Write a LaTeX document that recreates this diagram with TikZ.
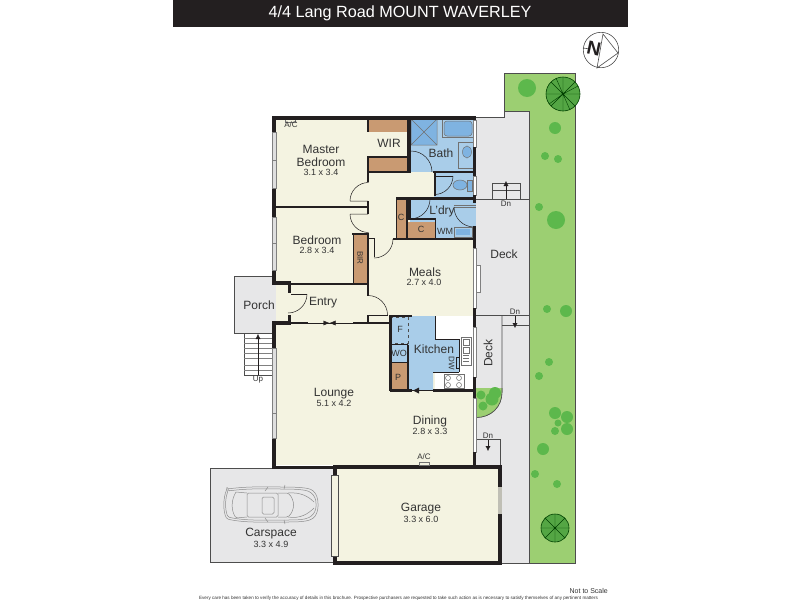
\documentclass[tikz,border=0pt]{standalone}
\usepackage{fontspec}
\setmainfont{Liberation Sans}
\usetikzlibrary{arrows.meta}
\definecolor{wallc}{HTML}{231F20}
\definecolor{creamc}{HTML}{F4F3E1}
\definecolor{bluec}{HTML}{A9CDE9}
\definecolor{dbluec}{HTML}{7FB3E1}
\definecolor{brownc}{HTML}{C99A72}
\definecolor{deckc}{HTML}{E7E7E8}
\definecolor{lawnc}{HTML}{9CCF72}
\definecolor{treec}{HTML}{5DB84C}
\definecolor{linec}{HTML}{4D4D4D}
\definecolor{textc}{HTML}{333333}
\tikzset{
  wall/.style={fill=wallc},
  thinl/.style={draw=linec,line width=0.6pt},
  fixt/.style={draw=linec!80,line width=0.5pt},
  doorl/.style={draw=wallc,line width=0.5pt},
  lbl/.style={inner sep=0pt,text=textc,font=\fontsize{12}{12}\selectfont},
  sublbl/.style={inner sep=0pt,text=textc,font=\fontsize{9}{9}\selectfont},
  tinylbl/.style={inner sep=0pt,text=textc,font=\fontsize{8}{8}\selectfont},
  tree/.style={fill=treec},
  bigtree/.style={fill=treec!90!black,draw=green!25!black,line width=0.6pt},
  win/.style={fill=white,draw=gray,line width=0.4pt},
  arrowl/.style={draw=wallc,line width=0.4pt,-{Latex[length=5pt,width=5pt]}},
  car/.style={draw=gray!90,line width=0.5pt,rounded corners=1.5pt}
}
\newcommand{\wl}[4]{\fill[wall] (#1,#2) rectangle (#3,#4);}
\begin{document}
\begin{tikzpicture}[x=1pt,y=-1pt]
\useasboundingbox (0,0) rectangle (800,600);
\fill[white] (0,0) rectangle (800,600);
% title
\fill[wall] (173,0) rectangle (628,27);
\node[inner sep=0pt,text=white,font=\fontsize{16.2}{16}\selectfont] (title) at (400,13) {4/4 Lang Road MOUNT WAVERLEY};
% compass
\draw[linec,line width=0.6pt] (601,50) circle (17.7);
\draw[linec,line width=0.6pt] (603,34) -- (618,53) -- (597,68) -- cycle;
\draw[linec,line width=0.6pt] (583,48) -- (590,49);
\node[inner sep=0pt,text=wallc,rotate=-12,font=\bfseries\fontsize{19}{19}\selectfont] (north) at (594,49) {N};
% lawn
\fill[lawnc] (504,73) -- (575,73) -- (575,563) -- (529,563) -- (529,111) -- (504,111) -- cycle;
\draw[linec,line width=0.7pt] (504,111) -- (504,73) -- (575,73) -- (575,563) -- (529,563);
% deck surround
\fill[deckc] (476,117) -- (504,117) -- (504,111) -- (529,111) -- (529,563) -- (502,563) -- (502,465) -- (476,465) -- cycle;
\draw[linec,line width=0.7pt] (476,117) -- (504,117) -- (504,111) -- (529,111) -- (529,563) -- (502,563);
\draw[linec,line width=0.6pt] (476,199) -- (529,199);
\draw[linec,line width=0.6pt] (476,315.5) -- (529,315.5);
\draw[linec,line width=0.6pt] (502,315.5) -- (502,392) .. controls (502,407) and (491,417.5) .. (476,417.5);
\draw[linec,line width=0.6pt] (476,388) -- (502,388);
% steps on the decks
\draw[thinl] (492,199) -- (492,183) -- (520,183) -- (520,199);
\draw[thinl] (492,190) -- (520,190);
\coordinate (dna) at (506,199);
\coordinate (dnb) at (506,181);
\draw[arrowl] (dna) -- (dnb);
\node[tinylbl] (dntop) at (506,203.5) {Dn};
\draw[thinl] (502,325) -- (529,325);
\coordinate (dnc) at (515,316);
\coordinate (dnd) at (515,328);
\draw[arrowl] (dnc) -- (dnd);
\node[tinylbl] (dnmid) at (515,312) {Dn};
\draw[thinl] (476,439) -- (500,439) -- (500,465);
\coordinate (dne) at (488,440);
\coordinate (dnf) at (488,451);
\draw[arrowl] (dne) -- (dnf);
\node[tinylbl] (dnlow) at (488,436) {Dn};
% planter
\fill[lawnc] (476,388) -- (502,388) -- (502,392) .. controls (502,407) and (491,417.5) .. (476,417.5) -- cycle;
\draw[linec,line width=0.6pt] (502,388) -- (502,392) .. controls (502,407) and (491,417.5) .. (476,417.5);
\fill[tree] (481,395) circle (4.5) (495,393) circle (6) (492,399) circle (6.5) (483,406) circle (4.5);
% trees
\fill[tree] (527,88) circle (9) (555,128) circle (6) (545,156) circle (4) (558,159) circle (4)
 (539,207) circle (4) (556,220) circle (9) (547,309) circle (4) (566,311) circle (6)
 (549,362) circle (4) (539,376) circle (4) (555,413) circle (6) (567,417) circle (6)
 (558,423) circle (3.5) (567,429) circle (6) (555,431) circle (4) (543,449) circle (6)
 (535,474) circle (4) (557,484) circle (4);
\draw[bigtree] (563,94) circle (17);
\draw[green!25!black,line width=0.4pt] (563,77) -- (563,111) (546,94) -- (580,94) (551,82) -- (575,106) (575,82) -- (551,106)
  (556,78) -- (563,94) -- (578,86) (549,104) -- (563,94) -- (570,110);
\draw[bigtree] (555,528) circle (14);
\draw[green!25!black,line width=0.4pt] (555,514) -- (555,542) (541,528) -- (569,528) (545,518) -- (565,538) (565,518) -- (545,538);
% porch and stairs
\fill[deckc] (234,276) -- (272,276) -- (272,283) -- (288,283) -- (288,323) -- (272,323) -- (272,333) -- (234,333) -- cycle;
\draw[linec,line width=0.7pt] (272,276) -- (234,276) -- (234,333) -- (272,333);
\draw[thinl] (244,333) -- (244,375) -- (272,375);
\foreach \yy in {338,343,348,353,358,365,370} \draw[gray,line width=0.5pt] (244,\yy) -- (272,\yy);
\coordinate (upa) at (258,375);
\coordinate (upb) at (258,334);
\draw[arrowl] (upa) -- (upb);
\node[tinylbl] (up) at (258,379.5) {Up};
\node[lbl] (porch) at (259,305) {Porch};
% carspace
\fill[deckc] (210,468) rectangle (333,562);
\draw[linec,line width=0.7pt] (333,468) -- (210,468) -- (210,562) -- (333,562);
\draw[car] (227,489) .. controls (250,486) and (270,487) .. (283,487) .. controls (298,487) and (308,488) .. (312,490)
  .. controls (317,494) and (318,500) .. (318,505) .. controls (318,511) and (316,516) .. (312,519)
  .. controls (305,522) and (295,522) .. (283,522) .. controls (265,522) and (245,523) .. (227,519)
  .. controls (223,512) and (223,498) .. (227,489) -- cycle;
\draw[car] (228,491) .. controls (250,488) and (270,489) .. (283,489) .. controls (297,489) and (306,490) .. (310,492)
  .. controls (315,496) and (316,500) .. (316,505) .. controls (316,510) and (314,514) .. (310,517)
  .. controls (304,520) and (295,520) .. (283,520) .. controls (265,520) and (245,521) .. (228,517)
  .. controls (225,510) and (225,499) .. (228,491) -- cycle;
\draw[car] (247,493) -- (278,493) -- (278,517) -- (247,517) -- cycle;
\draw[car] (278,493) -- (288,493) .. controls (295,500) and (295,510) .. (288,517) -- (278,517);
\draw[car] (236,492) .. controls (231,500) and (231,510) .. (236,518) -- (247,517) (236,492) -- (247,493);
\draw[car] (262,497) rectangle (274,514);
\draw[car] (284,489) -- (285,485) (284,520) -- (285,524) (265,491) -- (268,487) (265,518) -- (268,522);
\draw[car] (288,493) .. controls (300,492) and (308,496) .. (314,502) (288,517) .. controls (300,519) and (308,514) .. (314,508);
\node[lbl] (carspace) at (271,534) {Carspace};
\node[sublbl] (carsize) at (271,544) {3.3 x 4.9};
% garage
\fill[creamc] (333,465) rectangle (502,565);
\wl{333}{465}{502}{469} \wl{333}{561}{502}{565} \wl{333}{465}{337}{475} \wl{333}{556}{337}{565}
\wl{498}{465}{502}{487} \wl{498}{514}{502}{565}
\fill[gray!45!creamc] (498,487) rectangle (502,514);
\draw[fill=creamc,draw=linec,line width=0.6pt] (331,475) rectangle (338,556);
\node[lbl] (garage) at (421,509) {Garage};
\node[sublbl] (garagesize) at (421,519) {3.3 x 6.0};
% house floor
\fill[creamc] (276,118) rectangle (473,465);
% brown robes
\fill[brownc] (368,119) rectangle (408,132);
\fill[brownc] (368,157) rectangle (408,171);
\fill[brownc] (353,235) rectangle (368,283);
\fill[brownc] (396,199) rectangle (408,238);
\fill[brownc] (408,222) rectangle (435,238);
% wet areas
\fill[bluec] (408,118) rectangle (474,172);
\fill[bluec] (434,172) rectangle (474,198);
\fill[bluec] (410,199) rectangle (476,222);
\fill[bluec] (435,222) rectangle (476,239);
\fill[dbluec] (411,119) rectangle (437,145);
\draw[fixt] (411,119) -- (437,145) (437,119) -- (411,145) (411,119) rectangle (437,145);
\draw[fixt] (442,119) -- (442,137) -- (473,137);
\draw[fixt,fill=dbluec,rounded corners=3pt] (444,121) rectangle (472,136);
\draw[fixt] (473,142) -- (458,142) -- (458,168) -- (473,168);
\draw[fixt,fill=dbluec] (467,152) ellipse (4.5 and 6);
\draw[fixt,fill=dbluec] (460,185) ellipse (7 and 5);
\draw[fixt,fill=dbluec] (467,180) rectangle (472,191);
\draw[fixt] (454,227) rectangle (472,237);
\fill[dbluec] (456,229) rectangle (470,235);
% kitchen
\fill[white] (435,316) rectangle (473,390);
\fill[bluec] (390,316) -- (435,316) -- (435,339) -- (459,339) -- (459,372) -- (433,372) -- (433,390) -- (390,390) -- cycle;
\fill[brownc] (391,363) rectangle (408,390);
\draw[linec,line width=0.5pt,dashed] (391,317) rectangle (408,343);
\draw[wallc,line width=1.2pt] (390,344.5) -- (408,344.5) (390,362.5) -- (408,362.5) (408,344.5) -- (408,390);
\draw[wallc,line width=0.4pt] (435,339) -- (459,339) (435,316) -- (435,339) (433,372) -- (459,372) (459,339) -- (459,372);
\draw[fixt,fill=white] (461,337) rectangle (471,365);
\draw[fixt] (463,339) rectangle (469,345) (463,347) rectangle (469,353) (463,355) -- (469,355) (463,358) -- (469,358) (463,361) -- (469,361);
\draw[fixt,fill=white] (444,374) rectangle (464,388);
\draw[fixt] (448,378) circle (2.5) (459,378) circle (2.5) (448,385) circle (2.5) (459,385) circle (2.5);
\draw[wallc,fill=bluec,line width=0.5pt] (456,357) rectangle (459,368);
\node[tinylbl,rotate=-90] (dw) at (451.5,363) {DW};
% walls of the house
\wl{272}{116}{476}{119.5} % top
\wl{272}{116}{276}{132} \wl{272}{188}{276}{217} \wl{272}{270}{276}{285} \wl{272}{323}{276}{348} \wl{272}{438}{276}{469} % left
\wl{272}{465.5}{476}{469}
\wl{272}{281}{291}{285} \wl{272}{321}{291}{325}
\wl{288}{283}{291}{293} \wl{288}{315}{291}{325}
\wl{290}{283}{369}{285} % entry top
\wl{291}{322}{308}{324} \wl{353}{322}{390}{324}
\wl{272}{206}{368}{208} % bedrooms
\wl{367}{157}{369}{182} \wl{367}{119}{369}{132} \wl{367}{201}{369}{214} \wl{367}{234}{369}{285}
\wl{367}{156}{408}{157.5}
\wl{407}{118}{411}{173} \wl{367}{171}{411}{173} \wl{433}{171}{476}{173}
\wl{434}{173}{436}{196} \wl{396}{197}{476}{200}
\wl{395.5}{197}{396.5}{240} \wl{406}{198}{408}{238} \wl{408}{198}{411}{220} \wl{408}{218}{436}{220} \wl{434.5}{220}{435.5}{238}
\wl{393}{238}{476}{240}
\wl{352}{233}{369}{235} \wl{352.5}{233}{353.5}{285}
\wl{368}{238}{375}{239} \wl{374}{238}{375}{257}
\wl{367}{285}{369}{296}
\wl{367}{314.5}{388}{316} \wl{367}{316}{369}{323}
\wl{389}{315}{392}{391} \wl{390}{315}{412}{317} \wl{390}{389}{412}{392} \wl{433}{389}{476}{392}
% right wall and windows
\draw[win] (473,120) rectangle (476,147) (473,176) rectangle (476,195) (473,248) rectangle (476,308)
  (473,327) rectangle (476,377) (473,398) rectangle (476,452);
\wl{472.5}{116}{476}{120} \wl{472.5}{147}{476}{176} \wl{472.5}{195}{476}{203} \wl{472.5}{226}{476}{248} \wl{472.5}{308}{476}{327} \wl{472.5}{377}{476}{398} \wl{472.5}{452}{476}{469}
\draw[win] (476,265) rectangle (480,292);
% left windows
\draw[win,fill=gray!25] (272,132) rectangle (276,188) (272,217) rectangle (276,270) (272,348) rectangle (276,438);
\draw[gray,line width=0.4pt] (272,160) -- (276,160) (272,243) -- (276,243) (272,413) -- (276,413);
% doors
\draw[doorl] (350,201) -- (368,201) (350,201) arc[start angle=180,end angle=270,radius=18.5];
\draw[doorl] (350,214) -- (368,214) (350,214) arc[start angle=180,end angle=90,radius=18.5];
\draw[doorl] (393,239) arc[start angle=0,end angle=90,radius=19];
\draw[doorl] (387.5,315) arc[start angle=0,end angle=-90,radius=19.5];
\draw[doorl,line width=0.8pt] (291,294) -- (307,294);
\draw[doorl] (307,294) arc[start angle=0,end angle=90,radius=19];
\draw[doorl] (411,151) arc[start angle=270,end angle=360,radius=21];
\draw[doorl,line width=0.8pt] (435,176) -- (453,176);
\draw[doorl] (453,176) arc[start angle=0,end angle=90,radius=18.5];
\draw[doorl] (430,199) arc[start angle=0,end angle=90,radius=20];
\draw[fixt] (454,205) -- (476,205) (454,207) -- (476,207);
\draw[doorl] (454,207) arc[start angle=180,end angle=90,radius=20];
% sliding door to the lounge
\coordinate (slidea) at (308,323);
\coordinate (slideb) at (353,323);
\coordinate (slidem) at (329.5,323);
\draw[wallc,line width=0.4pt] (slidea) -- (slideb);
\draw[wallc,-{Latex[length=6pt,width=5pt]},line width=0.4pt] (320,323) -- (slidem);
\draw[wallc,-{Latex[length=6pt,width=5pt]},line width=0.4pt] (339,323) -- (slidem);
\coordinate (kslidea) at (433,390.5);
\coordinate (kslideb) at (412,390.5);
\draw[wallc,line width=0.4pt] (kslidea) -- (kslideb);
\fill[wallc] (413,390.5) -- (419,387.5) -- (419,393.5) -- cycle;
% A/C
\draw[fixt] (285,120) -- (285,122) -- (295,122) -- (295,120);
\node[tinylbl] (actop) at (291,125) {A/C};
\draw[fixt,fill=creamc] (419,462.5) rectangle (429,465.5);
\node[tinylbl] (acbot) at (424,457) {A/C};
% room labels
\node[lbl] (master) at (321,149) {Master};
\node[lbl] (masterb) at (321,162) {Bedroom};
\node[sublbl] (mastersize) at (321,172) {3.1 x 3.4};
\node[lbl] (wir) at (389,143) {WIR};
\node[lbl] (bath) at (441,153) {Bath};
\node[lbl] (ldry) at (442,211) {L'dry};
\node[sublbl] (c1) at (401,217) {C};
\node[sublbl] (c2) at (421,229) {C};
\node[sublbl] (wm) at (445,231) {WM};
\node[lbl] (bed) at (317,240) {Bedroom};
\node[sublbl] (bedsize) at (317,250) {2.8 x 3.4};
\node[tinylbl,rotate=-90] (bir) at (360,258) {BIR};
\node[lbl] (meals) at (425,272) {Meals};
\node[sublbl] (mealssize) at (424,282) {2.7 x 4.0};
\node[lbl] (deck1) at (504,254) {Deck};
\node[lbl] (entry) at (323,303) {Entry};
\node[lbl] (kitchen) at (434,349) {Kitchen};
\node[sublbl] (f) at (400,329) {F};
\node[sublbl] (wo) at (399,353) {WO};
\node[sublbl] (p) at (398,377) {P};
\node[lbl,rotate=90] (deck2) at (488,353) {Deck};
\node[lbl] (lounge) at (334,394) {Lounge};
\node[sublbl] (loungesize) at (334,403) {5.1 x 4.2};
\node[lbl] (dining) at (430,421) {Dining};
\node[sublbl] (diningsize) at (430,431) {2.8 x 3.3};
% footer
\node[inner sep=0pt,anchor=east,text=textc,font=\fontsize{7}{7}\selectfont] (scale) at (608,591) {Not to Scale};
\node[inner sep=0pt,text=textc,font=\fontsize{4.6}{4.6}\selectfont] (care) at (398.5,598) {Every care has been taken to verify the accuracy of details in this brochure. Prospective purchasers are requested to take such action as is necessary to satisfy themselves of any pertinent matters};
\end{tikzpicture}
\end{document}
